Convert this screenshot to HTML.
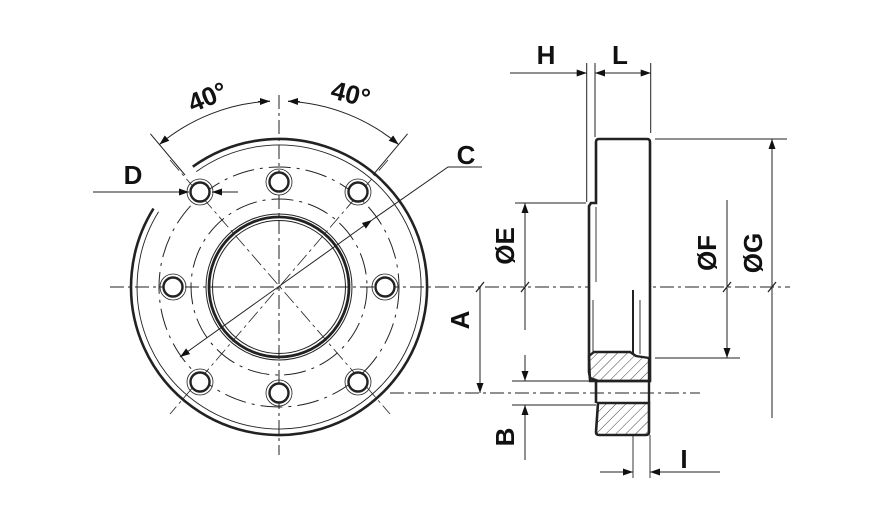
<!DOCTYPE html>
<html><head><meta charset="utf-8"><style>
html,body{margin:0;padding:0;background:#fff;}
svg{display:block;}
text{font-family:"Liberation Sans",sans-serif;font-weight:bold;fill:#111;font-size:26px;}
</style></head><body>
<svg width="880" height="520" viewBox="0 0 880 520" xmlns="http://www.w3.org/2000/svg">
<defs>
<marker id="ar" viewBox="0 0 10 10" refX="10" refY="5" markerWidth="10" markerHeight="10" markerUnits="userSpaceOnUse" orient="auto-start-reverse"><path d="M0,1.5 L10,5 L0,8.5 z" fill="#111"/></marker>
<pattern id="hatch" width="7" height="7" patternUnits="userSpaceOnUse" patternTransform="rotate(45)"><line x1="0" y1="0" x2="0" y2="7" stroke="#444" stroke-width="1"/></pattern>
</defs>
<g fill="none" stroke="#222">
<line x1="110" y1="287" x2="790" y2="287" stroke-width="1" stroke-dasharray="14,4,3,4"/>
<line x1="279" y1="95" x2="279" y2="455" stroke-width="1" stroke-dasharray="14,4,3,4"/>
<line x1="390" y1="393" x2="700" y2="393" stroke-width="1" stroke-dasharray="14,4,3,4"/>
<line x1="170" y1="160" x2="390" y2="414" stroke-width="0.8" stroke-dasharray="14,4,3,4"/>
<line x1="388" y1="160" x2="170" y2="414" stroke-width="0.8" stroke-dasharray="14,4,3,4"/>
<path d="M192.8,166.7 A148 148 0 1 1 153.5,208.6" stroke-width="2.6"/>
<path d="M196.3,171.6 A142 142 0 1 1 158.6,211.8" stroke-width="0.9"/>
<circle cx="279" cy="287" r="120" stroke-width="1" stroke-dasharray="22,6,3,6"/>
<circle cx="279" cy="287" r="88" stroke-width="1" stroke-dasharray="22,6,3,6"/>
<circle cx="279" cy="287" r="73" stroke-width="1"/>
<circle cx="279" cy="287" r="70" stroke-width="2.8"/>
<circle cx="279" cy="287" r="66.5" stroke-width="1"/>
<g stroke-width="2.4" fill="#fff">
<circle cx="279" cy="182" r="9.5"/><circle cx="279" cy="393" r="9.5"/>
<circle cx="173" cy="287" r="9.5"/><circle cx="385" cy="287" r="9.5"/>
<circle cx="200" cy="192" r="9.5"/><circle cx="358" cy="192" r="9.5"/>
<circle cx="200" cy="382" r="9.5"/><circle cx="358" cy="382" r="9.5"/>
</g>
<g stroke-width="0.8">
<circle cx="279" cy="182" r="13"/><circle cx="279" cy="393" r="13"/>
<circle cx="173" cy="287" r="13"/><circle cx="385" cy="287" r="13"/>
<circle cx="200" cy="192" r="13"/><circle cx="358" cy="192" r="13"/>
<circle cx="200" cy="382" r="13"/><circle cx="358" cy="382" r="13"/>
</g>
<line x1="150.4" y1="133.8" x2="185" y2="175" stroke-width="1"/>
<line x1="407.6" y1="133.8" x2="373" y2="175" stroke-width="1"/>
<path d="M159.4,144.5 A186 186 0 0 1 270,101.2" stroke-width="1" marker-start="url(#ar)"/>
<path d="M288,101.2 A186 186 0 0 1 398.6,144.5" stroke-width="1" marker-end="url(#ar)"/>
<line x1="258" y1="101.5" x2="270" y2="101.2" stroke-width="1" marker-end="url(#ar)"/>
<line x1="300" y1="101.5" x2="288" y2="101.2" stroke-width="1" marker-end="url(#ar)"/>
<line x1="93" y1="192" x2="189" y2="192" stroke-width="1" marker-end="url(#ar)"/>
<line x1="238" y1="192" x2="212" y2="192" stroke-width="1" marker-end="url(#ar)"/>
<line x1="180" y1="357" x2="372" y2="220" stroke-width="1" marker-start="url(#ar)" marker-end="url(#ar)"/>
<polyline points="372,220 448,167 482,167" stroke-width="1"/>
<path d="M599,139 L647,139 Q650,139 650,142 L650,381 L598,381 L590,378 L589,372 L589,206 L591,203 L596,203 L596,142 Q596,139 599,139 Z" stroke-width="2.6" fill="#fff"/>
<path d="M590,381 L589,356 L594,352 L630,352 L636,356 L649,358 L649,381 Z" fill="url(#hatch)" stroke="#222" stroke-width="2.4"/>
<path d="M598,403 L649,403 L649,432 Q649,435 646,435 L599,435 Q596,435 596,432 Z" fill="url(#hatch)" stroke="#222" stroke-width="2.6"/>
<line x1="596" y1="381" x2="596" y2="403" stroke-width="2.6"/>
<line x1="649" y1="381" x2="649" y2="403" stroke-width="2.4"/>
<line x1="596" y1="207" x2="596" y2="282" stroke-width="0.9"/>
<line x1="593" y1="300" x2="593" y2="352" stroke-width="0.9"/>
<line x1="633" y1="290" x2="633" y2="354" stroke-width="2"/>
<line x1="640" y1="300" x2="640" y2="354" stroke-width="0.9"/>
<line x1="633" y1="435" x2="633" y2="478" stroke-width="0.9"/>
<line x1="650" y1="435" x2="650" y2="478" stroke-width="0.9"/>
<line x1="586.7" y1="63" x2="586.7" y2="202" stroke-width="1"/>
<line x1="595" y1="63" x2="595" y2="137" stroke-width="1"/>
<line x1="650.7" y1="63" x2="650.7" y2="133" stroke-width="1"/>
<line x1="510" y1="73" x2="586.7" y2="73" stroke-width="1" marker-end="url(#ar)"/>
<line x1="595" y1="73" x2="650.7" y2="73" stroke-width="1" marker-start="url(#ar)" marker-end="url(#ar)"/>
<line x1="515" y1="203" x2="586" y2="203" stroke-width="1"/>
<line x1="525" y1="203" x2="525" y2="330" stroke-width="1" marker-start="url(#ar)"/>
<line x1="480" y1="287" x2="480" y2="393" stroke-width="1" marker-end="url(#ar)"/>
<line x1="512" y1="381" x2="590" y2="381" stroke-width="1"/>
<line x1="512" y1="405" x2="596" y2="405" stroke-width="1"/>
<line x1="525" y1="355" x2="525" y2="381" stroke-width="1" marker-end="url(#ar)"/>
<line x1="525" y1="460" x2="525" y2="405" stroke-width="1" marker-end="url(#ar)"/>
<line x1="727" y1="200" x2="727" y2="358" stroke-width="1" marker-end="url(#ar)"/>
<line x1="655" y1="358" x2="740" y2="358" stroke-width="1"/>
<line x1="655" y1="139" x2="787" y2="139" stroke-width="1"/>
<line x1="772" y1="418" x2="772" y2="139" stroke-width="1" marker-end="url(#ar)"/>
<line x1="600" y1="472" x2="633" y2="472" stroke-width="1" marker-end="url(#ar)"/>
<line x1="720" y1="472" x2="650" y2="472" stroke-width="1" marker-end="url(#ar)"/>
<g stroke-width="1.3">
<line x1="476" y1="292" x2="484" y2="282"/><line x1="521" y1="292" x2="529" y2="282"/>
<line x1="723" y1="292" x2="731" y2="282"/><line x1="768" y1="292" x2="776" y2="282"/>
</g>
</g>
<text x="207" y="106" transform="rotate(-22 207 96)" text-anchor="middle">40°</text>
<text x="351" y="103" transform="rotate(14 351 93)" text-anchor="middle">40°</text>
<text x="133" y="184" text-anchor="middle">D</text>
<text x="466" y="164" text-anchor="middle">C</text>
<text x="546" y="64" text-anchor="middle">H</text>
<text x="620" y="64" text-anchor="middle">L</text>
<text transform="translate(514,246) rotate(-90)" text-anchor="middle">ØE</text>
<text transform="translate(469,320) rotate(-90)" text-anchor="middle">A</text>
<text transform="translate(514,437) rotate(-90)" text-anchor="middle">B</text>
<text transform="translate(716,253) rotate(-90)" text-anchor="middle">ØF</text>
<text transform="translate(762,253) rotate(-90)" text-anchor="middle">ØG</text>
<text x="684" y="468" text-anchor="middle">I</text>
</svg>
</body></html>
